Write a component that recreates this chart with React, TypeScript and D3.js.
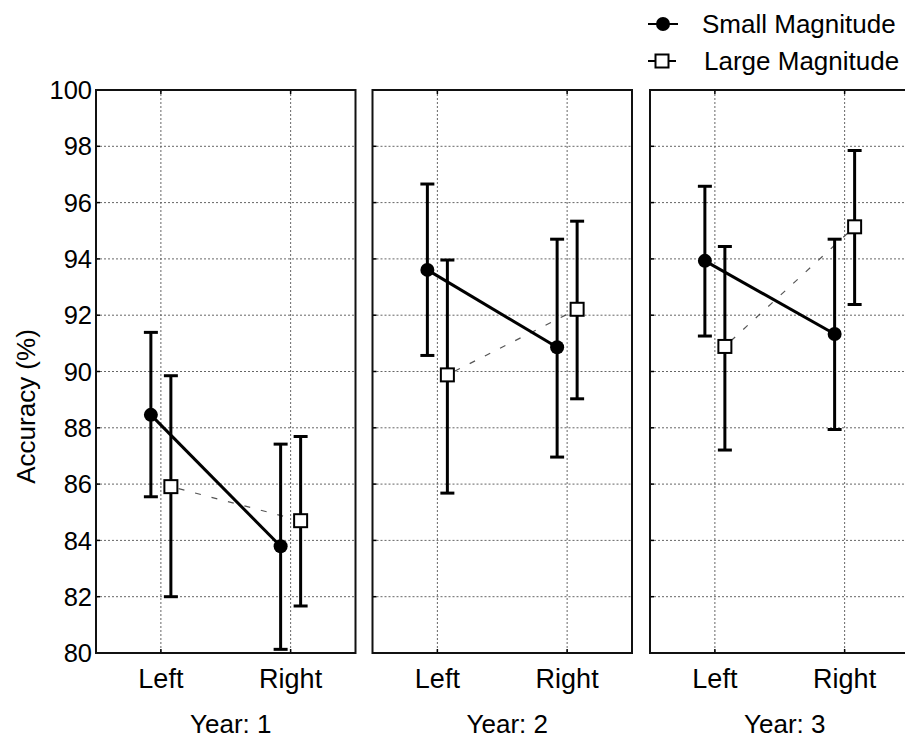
import React from "react";
import * as d3 from "d3";

const years = ["1", "2", "3"];
const categories = ["Left", "Right"];
const yTicks = [80, 82, 84, 86, 88, 90, 92, 94, 96, 98, 100];

// per year: [Left, Right]
const smallMean = [
  [88.46, 83.79],
  [93.61, 90.86],
  [93.93, 91.33],
];
const smallLow = [
  [85.55, 80.13],
  [90.57, 86.96],
  [91.26, 87.94],
];
const smallHigh = [
  [91.39, 87.42],
  [96.66, 94.7],
  [96.58, 94.7],
];
const largeMean = [
  [85.91, 84.7],
  [89.88, 92.21],
  [90.89, 95.14],
];
const largeLow = [
  [82.0, 81.67],
  [85.68, 89.03],
  [87.21, 92.38],
];
const largeHigh = [
  [89.85, 87.69],
  [93.96, 95.34],
  [94.44, 97.85],
];

const W = 905;
const H = 740;
const panelLefts = [96, 372.5, 650];
const panelW = 259.5;
const top = 90;
const bottom = 653;
const FONT = "Liberation Sans, Arial, Helvetica, sans-serif";

export default function App() {
  const y = d3.scaleLinear().domain([80, 100]).range([bottom, top]);
  const x = d3.scaleBand<string>().domain(categories).range([0, panelW]);
  const cx = (c: string) => (x(c) as number) + x.bandwidth() / 2;
  const off = 10;
  const capW = 7;
  const line = d3
    .line<[number, number]>()
    .x((d) => d[0])
    .y((d) => d[1]);

  return (
    <svg
      width={W}
      height={H}
      style={{ position: "absolute", left: 0, top: 0, background: "#fff" }}
      fontFamily={FONT}
    >
      <rect width={W} height={H} fill="#fff" />
      {years.map((yr, p) => {
        const L = panelLefts[p];
        const sPts: [number, number][] = categories.map((c, i) => [
          L + cx(c) - off,
          y(smallMean[p][i]),
        ]);
        const lPts: [number, number][] = categories.map((c, i) => [
          L + cx(c) + off,
          y(largeMean[p][i]),
        ]);
        return (
          <g key={yr}>
            {/* grid */}
            {yTicks.slice(1, -1).map((t) => (
              <line
                key={"h" + t}
                x1={L}
                x2={L + panelW}
                y1={y(t)}
                y2={y(t)}
                stroke="#666"
                strokeWidth={1}
                strokeDasharray="2,2"
              />
            ))}
            {categories.map((c) => (
              <line
                key={"v" + c}
                x1={L + cx(c)}
                x2={L + cx(c)}
                y1={top}
                y2={bottom}
                stroke="#666"
                strokeWidth={1}
                strokeDasharray="2,2"
              />
            ))}
            {/* inner ticks */}
            {yTicks.map((t) => (
              <line
                key={"t" + t}
                x1={L}
                x2={L + 4}
                y1={y(t)}
                y2={y(t)}
                stroke="#000"
                strokeWidth={1.5}
              />
            ))}
            {categories.map((c) => (
              <g key={"xt" + c}>
                <line
                  x1={L + cx(c)}
                  x2={L + cx(c)}
                  y1={top}
                  y2={top + 4}
                  stroke="#000"
                  strokeWidth={1.5}
                />
                <line
                  x1={L + cx(c)}
                  x2={L + cx(c)}
                  y1={bottom}
                  y2={bottom - 4}
                  stroke="#000"
                  strokeWidth={1.5}
                />
              </g>
            ))}
            {/* frame */}
            <rect
              x={L}
              y={top}
              width={panelW}
              height={bottom - top}
              fill="none"
              stroke="#111"
              strokeWidth={2}
            />
            {/* dashed large line */}
            <path
              d={line(lPts) || ""}
              fill="none"
              stroke="#555"
              strokeWidth={1.2}
              strokeDasharray="6,11"
              strokeDashoffset={-8}
            />
            {/* solid small line */}
            <path d={line(sPts) || ""} fill="none" stroke="#000" strokeWidth={3} />
            {/* error bars */}
            {categories.map((c, i) => {
              const xs = L + cx(c) - off;
              const xl = L + cx(c) + off;
              return (
                <g key={"e" + c} stroke="#000" strokeWidth={3}>
                  <line x1={xs} x2={xs} y1={y(smallLow[p][i])} y2={y(smallHigh[p][i])} />
                  <line x1={xs - capW} x2={xs + capW} y1={y(smallLow[p][i])} y2={y(smallLow[p][i])} />
                  <line x1={xs - capW} x2={xs + capW} y1={y(smallHigh[p][i])} y2={y(smallHigh[p][i])} />
                  <line x1={xl} x2={xl} y1={y(largeLow[p][i])} y2={y(largeHigh[p][i])} />
                  <line x1={xl - capW} x2={xl + capW} y1={y(largeLow[p][i])} y2={y(largeLow[p][i])} />
                  <line x1={xl - capW} x2={xl + capW} y1={y(largeHigh[p][i])} y2={y(largeHigh[p][i])} />
                </g>
              );
            })}
            {/* markers */}
            {sPts.map((pt, i) => (
              <circle key={"c" + i} cx={pt[0]} cy={pt[1]} r={7} fill="#000" />
            ))}
            {lPts.map((pt, i) => (
              <rect
                key={"s" + i}
                x={pt[0] - 6.5}
                y={pt[1] - 6.5}
                width={13}
                height={13}
                fill="#fff"
                stroke="#000"
                strokeWidth={2}
              />
            ))}
            {/* x labels */}
            {categories.map((c) => (
              <text
                key={"xl" + c}
                x={L + cx(c)}
                y={688}
                textAnchor="middle"
                fontSize={27}
                fill="#000"
              >
                {c}
              </text>
            ))}
            <text
              x={L + panelW / 2 + 5}
              y={733}
              textAnchor="middle"
              fontSize={26}
              fill="#000"
            >
              {"Year: " + yr}
            </text>
          </g>
        );
      })}
      {/* y tick labels */}
      {yTicks.map((t) => (
        <text
          key={"yl" + t}
          x={92}
          y={y(t)}
          dy="0.36em"
          textAnchor="end"
          fontSize={25.5}
          fill="#000"
        >
          {t}
        </text>
      ))}
      <text
        transform={`translate(35,${(top + bottom) / 2 + 35}) rotate(-90)`}
        textAnchor="middle"
        fontSize={26}
        fill="#000"
      >
        Accuracy (%)
      </text>
      {/* legend */}
      <g>
        <line x1={648} x2={678} y1={24} y2={24} stroke="#000" strokeWidth={2} />
        <circle cx={663} cy={24} r={7} fill="#000" />
        <text x={702} y={33} fontSize={26} fill="#000">
          Small Magnitude
        </text>
        <line x1={648} x2={676} y1={61} y2={61} stroke="#000" strokeWidth={2} />
        <rect x={655.5} y={54.5} width={13} height={13} fill="#fff" stroke="#000" strokeWidth={2} />
        <text x={704} y={70} fontSize={26} fill="#000">
          Large Magnitude
        </text>
      </g>
    </svg>
  );
}
